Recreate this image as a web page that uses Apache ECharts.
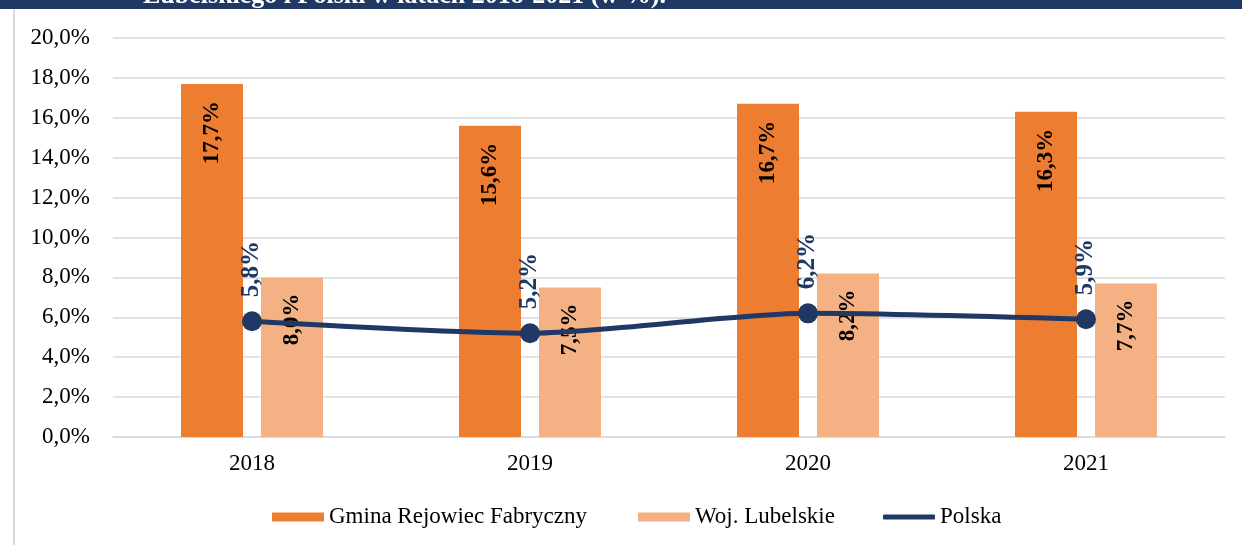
<!DOCTYPE html>
<html>
<head>
<meta charset="utf-8">
<script src="https://cdn.jsdelivr.net/npm/echarts@6/dist/echarts.min.js"></script>
<style>
html,body{margin:0;padding:0;background:#fff;}
#c{width:1242px;height:545px;}
</style>
</head>
<body>
<div id="c"></div>
<script>
const categories = ['2018', '2019', '2020', '2021'];
const gmina = [17.7, 15.6, 16.7, 16.3];
const lubelskie = [8.0, 7.5, 8.2, 7.7];
const polska = [5.8, 5.2, 6.2, 5.9];
const seriesNames = ['Gmina Rejowiec Fabryczny', 'Woj. Lubelskie', 'Polska'];
const titleText = 'Lubelskiego i Polski w latach 2018-2021 (w %).';

const FONT = 'Liberation Serif';
const fmt = v => v.toFixed(1).replace('.', ',') + '%';

const chart = echarts.init(document.getElementById('c'), null, {renderer: 'canvas'});
chart.setOption({
  backgroundColor: '#ffffff',
  animation: false,
  textStyle: {fontFamily: FONT},
  graphic: [
    {type: 'rect', left: 0, top: 0, z: 10, shape: {width: 1242, height: 9}, style: {fill: '#1F3864'}},
    {type: 'rect', left: 13, top: 9, shape: {width: 2, height: 536}, style: {fill: '#D9D9D9'}},
    {type: 'text', x: 143, y: 9, z: 11, style: {text: titleText, fill: '#ffffff', font: 'bold 26px "Liberation Serif"', verticalAlign: 'bottom', align: 'left'}}
  ],
  grid: {left: 113, right: 17, top: 38, bottom: 108, containLabel: false},
  legend: [
    {data: [seriesNames[0]], left: 272, top: 505, padding: 0, icon: 'rect', itemWidth: 52, itemHeight: 9,
     textStyle: {fontFamily: FONT, fontSize: 23, color: '#000', lineHeight: 24}},
    {data: [seriesNames[1]], left: 638, top: 505, padding: 0, icon: 'rect', itemWidth: 52, itemHeight: 9,
     textStyle: {fontFamily: FONT, fontSize: 23, color: '#000', lineHeight: 24}},
    {data: [seriesNames[2]], left: 883, top: 505, padding: 0, icon: 'roundRect', itemWidth: 52, itemHeight: 5,
     textStyle: {fontFamily: FONT, fontSize: 23, color: '#000', lineHeight: 24}}
  ],
  xAxis: {
    type: 'category',
    data: categories,
    axisLine: {show: true, lineStyle: {color: '#D9D9D9', width: 1.5}},
    axisTick: {show: false},
    axisLabel: {fontFamily: FONT, fontSize: 23, color: '#000', margin: 15}
  },
  yAxis: {
    type: 'value',
    min: 0, max: 20, interval: 2,
    axisLine: {show: false},
    axisTick: {show: false},
    splitLine: {lineStyle: {color: '#D9D9D9', width: 1.5}},
    axisLabel: {fontFamily: FONT, fontSize: 23, color: '#000', margin: 23, formatter: v => fmt(v)}
  },
  series: [
    {
      name: seriesNames[0], type: 'bar', data: gmina,
      barWidth: 62, barGap: '29%',
      itemStyle: {color: '#ED7D31'},
      label: {show: true, position: 'insideTop', rotate: 90, align: 'right', verticalAlign: 'middle', distance: 17,
              fontFamily: FONT, fontSize: 23, fontWeight: 'bold', color: '#000', formatter: p => fmt(p.value)}
    },
    {
      name: seriesNames[1], type: 'bar', data: lubelskie,
      barWidth: 62,
      itemStyle: {color: '#F4B183'},
      label: {show: true, position: 'insideTop', rotate: 90, align: 'right', verticalAlign: 'middle', distance: 16,
              fontFamily: FONT, fontSize: 23, fontWeight: 'bold', color: '#000', formatter: p => fmt(p.value)}
    },
    {
      name: seriesNames[2], type: 'line', data: polska,
      smooth: 0.25,
      symbol: 'circle', symbolSize: 20,
      color: '#203864',
      lineStyle: {color: '#203864', width: 5},
      itemStyle: {color: '#203864'},
      label: {show: true, position: 'top', rotate: 90, align: 'left', verticalAlign: 'middle', distance: 14,
              fontFamily: FONT, fontSize: 25, fontWeight: 'bold', color: '#203864', formatter: p => fmt(p.value)}
    }
  ]
});
</script>
</body>
</html>
